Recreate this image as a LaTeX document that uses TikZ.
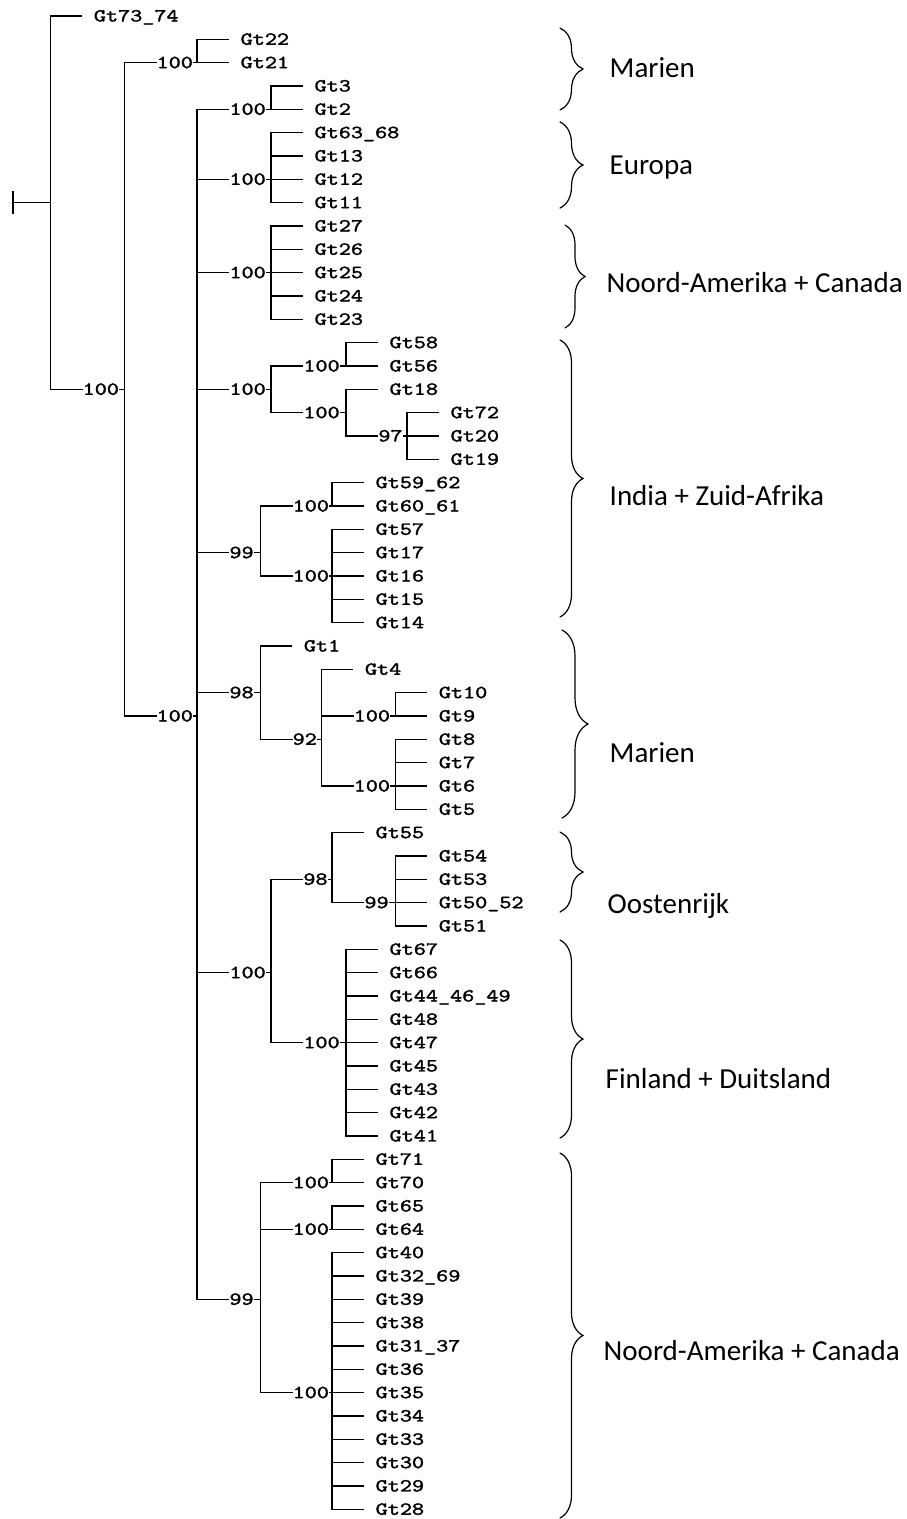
\documentclass[tikz,border=0pt]{standalone}
\usepackage{fontspec}
\usepackage{graphicx}
\usetikzlibrary{decorations.pathreplacing}
\newfontfamily\labfont{Carlito}
\newfontfamily\treefont{lmmono10-regular.otf}[FakeBold=1.6]
\newcommand\treetxt[1]{\scalebox{1.246}[1]{#1}}
\newcommand\lf[4]{%
  \node[tl] (#1) at ({#2+40},#3) {\treetxt{#4}};
  \draw (#2,#3) -- ([xshift=-11.8pt]#1.west);}
\newcommand\bn[7]{%
  \node[tl] (#1) at ({#2+29.5},#3) {\treetxt{#4}};
  \coordinate (#1v) at (#5,#3);
  \draw (#2,#3) -- (#1.west);
  \draw (#1.east) -- (#1v);
  \draw (#5,#6) -- (#5,#7);}
\begin{document}
\begin{tikzpicture}[x=1pt,y=-1pt,
  line width=1.4pt, line cap=rect,
  tl/.style={font=\fontsize{18.5}{20}\selectfont\treefont, inner sep=0pt, anchor=west, text height=11pt, text depth=0pt},
  lab/.style={font=\fontsize{29}{33}\selectfont\labfont, inner sep=0pt, anchor=base west},
  brc/.style={line width=1.2pt, line cap=round, decorate}]
\useasboundingbox (0,0) rectangle (907,1519);
\begin{scope}[shift={(0,16)}, x=1.0714pt, y=-23.333pt]
  % root
  \coordinate (root) at (12,8);
  \draw (12,7.53) -- (12,8.47);
  \draw (root) -- (47,8);
  \draw (47,0) -- (47,16);
  \lf{l0}{47}{0}{Gt73\_74}
  \bn{n1}{47}{16}{100}{116}{2}{30}
  % A
  \bn{a}{116}{2}{100}{184}{1}{2}
  \lf{l1}{184}{1}{Gt22}
  \lf{l2}{184}{2}{Gt21}
  % BB
  \bn{bb}{116}{30}{100}{184}{4}{55}
  % B1
  \bn{b1}{184}{4}{100}{253}{3}{4}
  \lf{l3}{253}{3}{Gt3}
  \lf{l4}{253}{4}{Gt2}
  % B2
  \bn{b2}{184}{7}{100}{253}{5}{8}
  \lf{l5}{253}{5}{Gt63\_68}
  \lf{l6}{253}{6}{Gt13}
  \lf{l7}{253}{7}{Gt12}
  \lf{l8}{253}{8}{Gt11}
  % B3
  \bn{b3}{184}{11}{100}{253}{9}{13}
  \lf{l9}{253}{9}{Gt27}
  \lf{l10}{253}{10}{Gt26}
  \lf{l11}{253}{11}{Gt25}
  \lf{l12}{253}{12}{Gt24}
  \lf{l13}{253}{13}{Gt23}
  % B4
  \bn{b4}{184}{16}{100}{253}{15}{17}
  \bn{c1}{253}{15}{100}{323}{14}{15}
  \lf{l14}{323}{14}{Gt58}
  \lf{l15}{323}{15}{Gt56}
  \bn{c2}{253}{17}{100}{323}{16}{18}
  \lf{l16}{323}{16}{Gt18}
  \bn{c3}{323}{18}{97}{380}{17}{19}
  \lf{l17}{380}{17}{Gt72}
  \lf{l18}{380}{18}{Gt20}
  \lf{l19}{380}{19}{Gt19}
  % B5
  \bn{b5}{184}{23}{99}{243}{21}{24}
  \bn{d1}{243}{21}{100}{310}{20}{21}
  \lf{l20}{310}{20}{Gt59\_62}
  \lf{l21}{310}{21}{Gt60\_61}
  \bn{d2}{243}{24}{100}{310}{22}{26}
  \lf{l22}{310}{22}{Gt57}
  \lf{l23}{310}{23}{Gt17}
  \lf{l24}{310}{24}{Gt16}
  \lf{l25}{310}{25}{Gt15}
  \lf{l26}{310}{26}{Gt14}
  % B6
  \bn{b6}{184}{29}{98}{243}{27}{31}
  \lf{l27}{243}{27}{Gt1}
  \bn{e2}{243}{31}{92}{300}{28}{33}
  \lf{l28}{300}{28}{Gt4}
  \bn{e3}{300}{30}{100}{369}{29}{30}
  \lf{l29}{369}{29}{Gt10}
  \lf{l30}{369}{30}{Gt9}
  \bn{e4}{300}{33}{100}{369}{31}{34}
  \lf{l31}{369}{31}{Gt8}
  \lf{l32}{369}{32}{Gt7}
  \lf{l33}{369}{33}{Gt6}
  \lf{l34}{369}{34}{Gt5}
  % B7
  \bn{b7}{184}{41}{100}{253}{37}{44}
  \bn{f1}{253}{37}{98}{310}{35}{38}
  \lf{l35}{310}{35}{Gt55}
  \bn{f2}{310}{38}{99}{369}{36}{39}
  \lf{l36}{369}{36}{Gt54}
  \lf{l37}{369}{37}{Gt53}
  \lf{l38}{369}{38}{Gt50\_52}
  \lf{l39}{369}{39}{Gt51}
  \bn{f3}{253}{44}{100}{323}{40}{48}
  \lf{l40}{323}{40}{Gt67}
  \lf{l41}{323}{41}{Gt66}
  \lf{l42}{323}{42}{Gt44\_46\_49}
  \lf{l43}{323}{43}{Gt48}
  \lf{l44}{323}{44}{Gt47}
  \lf{l45}{323}{45}{Gt45}
  \lf{l46}{323}{46}{Gt43}
  \lf{l47}{323}{47}{Gt42}
  \lf{l48}{323}{48}{Gt41}
  % B8
  \bn{b8}{184}{55}{99}{243}{50}{59}
  \bn{g1}{243}{50}{100}{310}{49}{50}
  \lf{l49}{310}{49}{Gt71}
  \lf{l50}{310}{50}{Gt70}
  \bn{g2}{243}{52}{100}{310}{51}{52}
  \lf{l51}{310}{51}{Gt65}
  \lf{l52}{310}{52}{Gt64}
  \bn{g3}{243}{59}{100}{310}{53}{64}
  \lf{l53}{310}{53}{Gt40}
  \lf{l54}{310}{54}{Gt32\_69}
  \lf{l55}{310}{55}{Gt39}
  \lf{l56}{310}{56}{Gt38}
  \lf{l57}{310}{57}{Gt31\_37}
  \lf{l58}{310}{58}{Gt36}
  \lf{l59}{310}{59}{Gt35}
  \lf{l60}{310}{60}{Gt34}
  \lf{l61}{310}{61}{Gt33}
  \lf{l62}{310}{62}{Gt30}
  \lf{l63}{310}{63}{Gt29}
  \lf{l64}{310}{64}{Gt28}
\end{scope}
% braces
\draw[brc, decoration={brace, amplitude=23pt}] (560,28) -- (560,110);
\draw[brc, decoration={brace, amplitude=23pt}] (560,122) -- (560,208);
\draw[brc, decoration={brace, amplitude=20pt}] (565,225) -- (565,328);
\draw[brc, decoration={brace, amplitude=23pt}] (560,340) -- (560,617);
\draw[brc, decoration={brace, amplitude=26pt}] (562,630) -- (562,818);
\draw[brc, decoration={brace, amplitude=23pt}] (560,832) -- (560,912);
\draw[brc, decoration={brace, amplitude=23pt}] (560,940) -- (560,1138);
\draw[brc, decoration={brace, amplitude=23pt}] (560,1153) -- (560,1518);
% region labels
\node[lab] (r1) at (609,77) {Marien};
\node[lab] (r2) at (609,174) {Europa};
\node[lab] (r3) at (606,292) {Noord-Amerika + Canada};
\node[lab] (r4) at (609,505) {India + Zuid-Afrika};
\node[lab] (r5) at (609,762) {Marien};
\node[lab] (r6) at (607,913) {Oostenrijk};
\node[lab] (r7) at (605,1088) {Finland + Duitsland};
\node[lab] (r8) at (603,1360) {Noord-Amerika + Canada};
\end{tikzpicture}
\end{document}
